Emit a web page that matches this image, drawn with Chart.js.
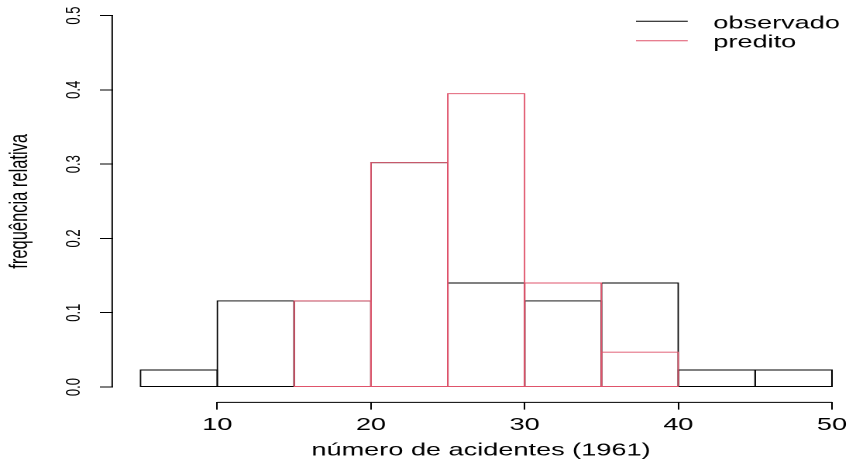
<!DOCTYPE html>
<html>
<head>
<meta charset="utf-8">
<script src="https://cdn.jsdelivr.net/npm/chart.js@4"></script>
<style>
  html, body { margin: 0; padding: 0; background: #fff; overflow: hidden; }
  /* o original tem o texto horizontal "esticado": desenho em 548px e estico para 849 */
  #wrap { width: 548px; height: 464px; transform: scaleX(1.5493); transform-origin: 0 0; }
</style>
</head>
<body>
<div id="wrap"><canvas id="grafico" width="548" height="464"></canvas></div>
<script>
const limites = [5, 10, 15, 20, 25, 30, 35, 40, 45, 50];
const observado = [0.023, 0.116, 0.116, 0.302, 0.140, 0.116, 0.140, 0.023, 0.023];
const predito = [null, null, 0.116, 0.302, 0.395, 0.140, 0.047, null, null];
const series = ["observado", "predito"];
const cores = ["#000000", "#DF536B"];
const ticksX = [10, 20, 30, 40, 50];
const ticksY = [0, 0.1, 0.2, 0.3, 0.4, 0.5];

const fonte = '"Liberation Sans", Arial, Helvetica, sans-serif';

// cada classe vira uma barra centrada no meio do intervalo
function pontos(valores) {
  return valores.map((v, i) => ({ x: (limites[i] + limites[i + 1]) / 2, y: v }));
}

function barras(nome, valores, cor, ordem) {
  return {
    label: nome,
    data: pontos(valores),
    order: ordem,
    grouped: false,
    barPercentage: 1,
    categoryPercentage: 1,
    backgroundColor: "rgba(0,0,0,0)",
    borderColor: cor,
    // borda fininha + inflate de 0.5 = traço de 1px centrado na aresta, como no R
    borderWidth: 0.01,
    inflateAmount: 0.5,
    borderSkipped: false
  };
}

// eixos do R só vão do primeiro ao último tick, e a legenda fica no canto
const eixosELegenda = {
  id: "eixosELegenda",
  afterDraw(chart) {
    const { ctx, chartArea } = chart;
    const x = chart.scales.x;
    const y = chart.scales.y;
    ctx.save();
    ctx.lineWidth = 1;
    ctx.strokeStyle = "#000";
    ctx.beginPath();
    ctx.moveTo(x.getPixelForValue(ticksX[0]), chartArea.bottom + 0.5);
    ctx.lineTo(x.getPixelForValue(ticksX[ticksX.length - 1]), chartArea.bottom + 0.5);
    ctx.moveTo(chartArea.left - 0.5, y.getPixelForValue(ticksY[0]));
    ctx.lineTo(chartArea.left - 0.5, y.getPixelForValue(ticksY[ticksY.length - 1]));
    ctx.stroke();

    ctx.font = "17.5px " + fonte;
    ctx.textBaseline = "alphabetic";
    ctx.textAlign = "left";
    series.forEach((nome, i) => {
      const yl = 21.3 + i * 19.4;
      ctx.strokeStyle = cores[i];
      ctx.beginPath();
      ctx.moveTo(chartArea.right - 137.5, yl);
      ctx.lineTo(chartArea.right - 104.1, yl);
      ctx.stroke();
      ctx.fillStyle = "#000";
      ctx.fillText(nome, chartArea.right - 87.6, yl + 7);
    });
    ctx.restore();
  }
};

const ctx = document.getElementById("grafico").getContext("2d");

new Chart(ctx, {
  type: "bar",
  data: {
    datasets: [
      barras(series[0], observado, cores[0], 1),
      barras(series[1], predito, cores[1], 0)
    ]
  },
  options: {
    responsive: false,
    animation: false,
    devicePixelRatio: 2,
    events: [],
    layout: { padding: { top: 0.7, left: 0, right: 0, bottom: 0 } },
    plugins: {
      legend: { display: false },
      tooltip: { enabled: false }
    },
    scales: {
      x: {
        type: "linear",
        min: 3.21,
        max: 51.11,
        offset: false,
        afterBuildTicks: s => { s.ticks = ticksX.map(v => ({ value: v })); },
        afterFit: s => { s.height = 62.1; s.paddingLeft = 0; s.paddingRight = 0; },
        border: { display: false },
        grid: { offset: false, drawOnChartArea: false, tickLength: 7.7, color: "#000", lineWidth: 1 },
        ticks: { color: "#000", font: { family: fonte, size: 17.5 }, maxRotation: 0, autoSkip: false, padding: 5 },
        title: {
          display: true,
          text: "número de acidentes (1961)",
          color: "#000",
          font: { family: fonte, size: 17.5 },
          padding: { top: 0, bottom: 3 }
        }
      },
      y: {
        type: "linear",
        min: -0.02,
        max: 0.52,
        afterBuildTicks: s => { s.ticks = ticksY.map(v => ({ value: v })); },
        afterFit: s => { s.width = 72.9; s.paddingTop = 0; s.paddingBottom = 0; },
        border: { display: false },
        grid: { drawOnChartArea: false, tickLength: 8.4, color: "#000", lineWidth: 1 },
        ticks: {
          color: "#000",
          font: { family: fonte, size: 13 },
          minRotation: 90,
          maxRotation: 90,
          crossAlign: "center",
          padding: 7.7,
          autoSkip: false,
          callback: v => v.toFixed(1)
        },
        title: {
          display: true,
          text: "frequência relativa",
          color: "#000",
          font: { family: fonte, size: 16.5 },
          padding: { top: 3.3, bottom: 0 }
        }
      }
    }
  },
  plugins: [eixosELegenda]
});
</script>
</body>
</html>
